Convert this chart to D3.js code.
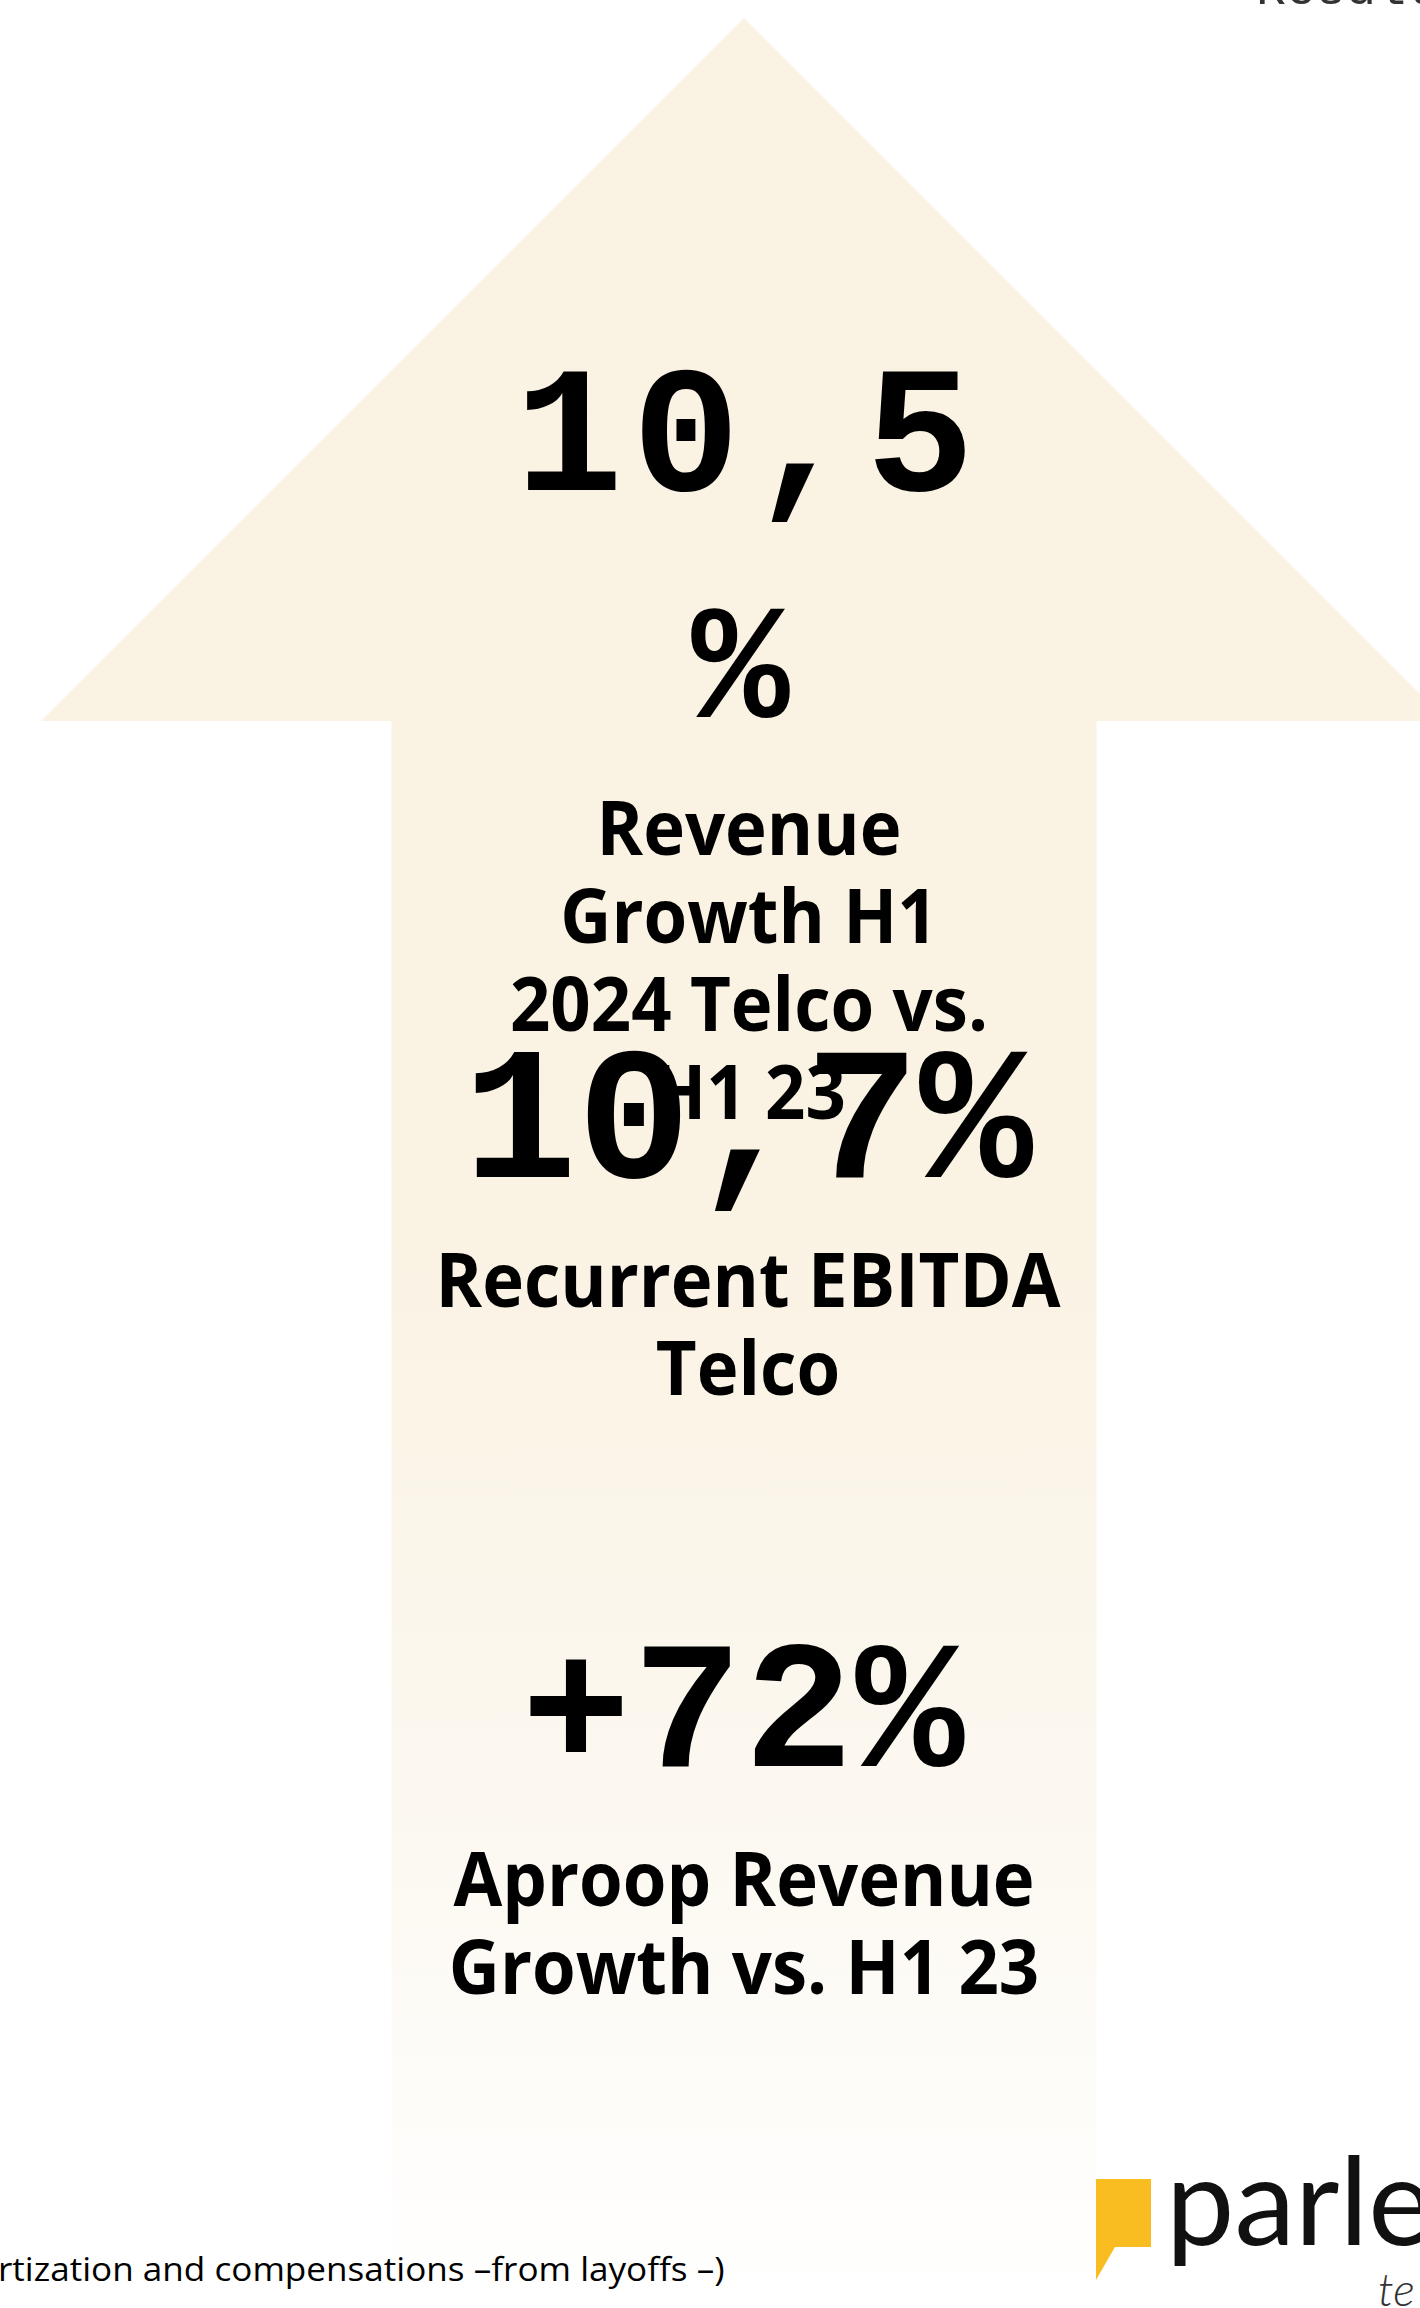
<!DOCTYPE html>
<meta charset="utf-8">
<script src="https://cdn.jsdelivr.net/npm/d3@7"></script>
<style>
body{margin:0; background:#fff;}
svg{display:block;}
.value{font-family:"Liberation Mono", monospace; font-weight:bold; fill:#000;}
.label{font-family:"Open Sans", sans-serif; font-weight:700; fill:#000;}
.note{font-family:"Open Sans", sans-serif; fill:#000;}
</style>
<div id="vis"></div>
<script>

// KPI values (each entry is the lines it wraps into)
var kpiValues = [["10,5", "%"], ["10,7%"], ["+72%"]];
// KPI captions
var kpiLabels = [
  ["Revenue", "Growth H1", "2024 Telco vs.", "H1 23"],
  ["Recurrent EBITDA", "Telco"],
  ["Aproop Revenue", "Growth vs. H1 23"]
];
var pageTitle = "Results";
var footnote = "rtization and compensations \u2013from layoffs \u2013)";
var logoWord = "parle";
var logoSub = "te";

// Width, height
var w = 1420, h = 2308;

// layout of the blocks (value baseline, size, spacing, caption baseline, centre)
var layout = [
  {vy: 490, vsize: 180, vlead: 227, ls: 9, ly: 855, cx: 749},
  {vy: 1177, vsize: 190, vlead: 0, ls: 0, ly: 1307, cx: 748},
  {vy: 1766, vsize: 182, vlead: 0, ls: 2, ly: 1906, cx: 744}
];
var labelSize = 76, labelLead = 88, labelSquash = 0.93;

var svg = d3.select("#vis")
    .append("svg")
    .attr("width", w)
    .attr("height", h);

// gradient of the arrow, cream fading to white at the bottom
var grad = svg.append("defs").append("linearGradient")
    .attr("id", "fade")
    .attr("gradientUnits", "userSpaceOnUse")
    .attr("x1", 0).attr("y1", 0).attr("x2", 0).attr("y2", h);
[[0, "#faf2e2"], [0.5, "#faf2e2"], [0.78, "#fcf8f0"], [1, "#ffffff"]].forEach(function(s) {
  grad.append("stop").attr("offset", s[0]).attr("stop-color", s[1]);
});

// Arrow
var tipX = 744, tipY = 18, baseY = 721, headHalf = 703, shaftHalf = 352.5;
var arrow = [
  [tipX, tipY], [tipX + headHalf, baseY], [tipX + shaftHalf, baseY], [tipX + shaftHalf, h],
  [tipX - shaftHalf, h], [tipX - shaftHalf, baseY], [tipX - headHalf, baseY]
];
svg.append("path")
    .attr("d", d3.line()(arrow) + "Z")
    .attr("fill", "url(#fade)");

// Title in the corner (cut by the page top)
svg.append("text")
    .attr("x", 1256).attr("y", 4)
    .style("font-family", "'Liberation Mono', monospace")
    .style("font-size", "50px")
    .attr("fill", "#333")
    .text(pageTitle);

// Values
var blocks = svg.selectAll(".block")
    .data(kpiValues)
  .enter().append("g")
    .attr("class", "block");

blocks.each(function(lines, i) {
  var L = layout[i], g = d3.select(this);
  g.selectAll(".value")
      .data(lines)
    .enter().append("text")
      .attr("class", "value")
      .attr("x", function(d, j) { return j ? L.cx - 4 : L.cx; })
      .attr("y", function(d, j) { return L.vy + j * L.vlead; })
      .attr("text-anchor", "middle")
      .style("font-size", function(d, j) { return (j ? 164 : L.vsize) + "px"; })
      .style("letter-spacing", L.ls + "px")
      .text(function(d) { return d; });

  g.selectAll(".label")
      .data(kpiLabels[i])
    .enter().append("text")
      .attr("class", "label")
      .attr("text-anchor", "middle")
      .attr("transform", function(d, j) {
        return "translate(" + L.cx + "," + (L.ly + j * labelLead) + ") scale(" + labelSquash + ",1)";
      })
      .style("font-size", labelSize + "px")
      .text(function(d) { return d; });
});

// Footnote
var note = svg.append("text")
    .attr("class", "note")
    .style("font-size", "32px")
    .text(footnote);
var nw = note.node().getComputedTextLength();
note.attr("transform", "translate(-2,2281) scale(" + (727 / nw) + ",1)");

// Logo
var logo = svg.append("g");
logo.append("path")
    .attr("d", d3.line()([[1096, 2179], [1151, 2179], [1151, 2247], [1115, 2247], [1096, 2280]]) + "Z")
    .attr("fill", "#f9bd21");
logo.append("text")
    .attr("x", 1166).attr("y", 2245)
    .style("font-family", "Lato, sans-serif")
    .style("font-size", "122px")
    .attr("fill", "#111")
    .text(logoWord);
logo.append("text")
    .attr("x", 1378).attr("y", 2306)
    .style("font-family", "Lato, sans-serif")
    .style("font-style", "italic")
    .style("font-weight", 300)
    .style("font-size", "46px")
    .attr("fill", "#333")
    .text(logoSub);

</script>
